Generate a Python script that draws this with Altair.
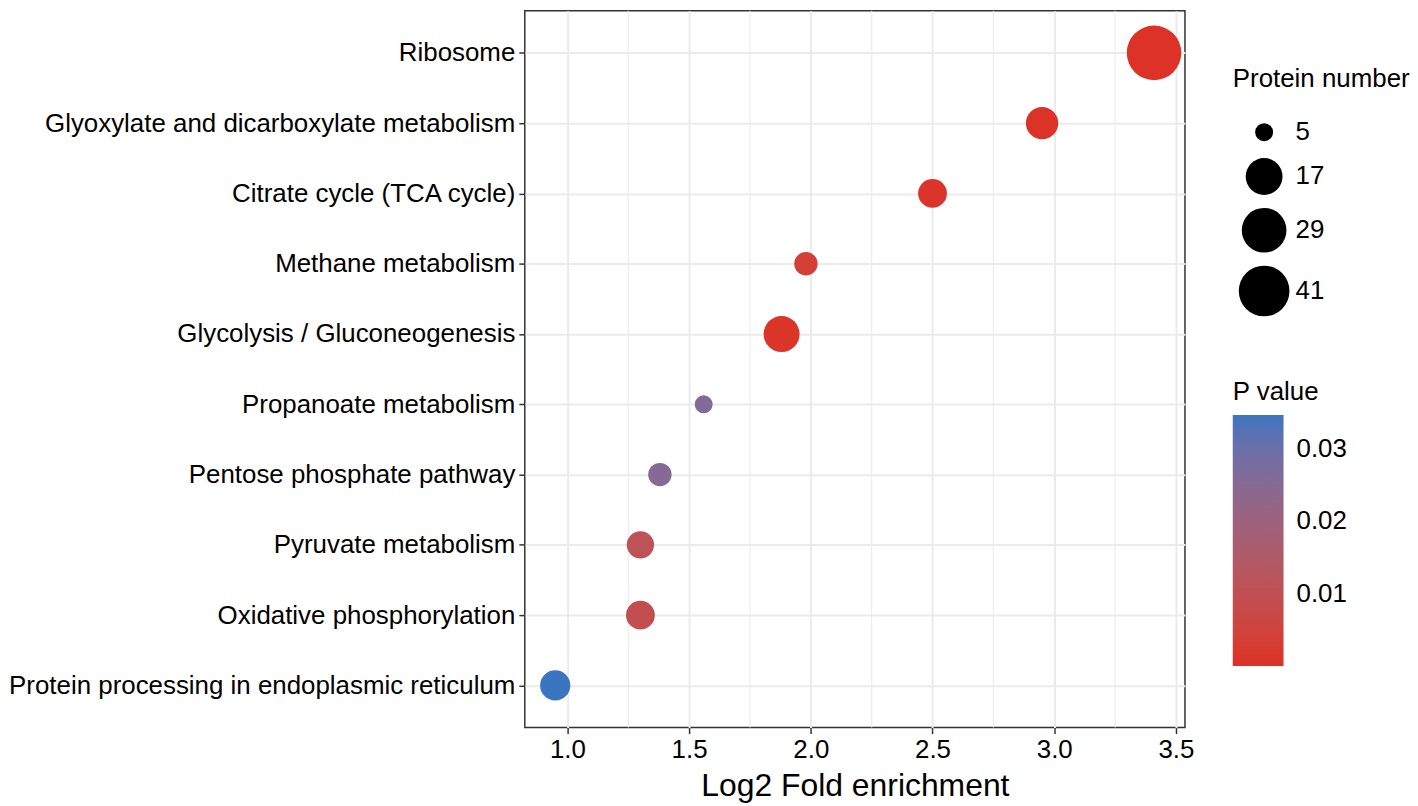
import altair as alt
import pandas as pd

# ---- data ----
pathways = [
    "Ribosome",
    "Glyoxylate and dicarboxylate metabolism",
    "Citrate cycle (TCA cycle)",
    "Methane metabolism",
    "Glycolysis / Gluconeogenesis",
    "Propanoate metabolism",
    "Pentose phosphate pathway",
    "Pyruvate metabolism",
    "Oxidative phosphorylation",
    "Protein processing in endoplasmic reticulum",
]
log2_fold_enrichment = [3.41, 2.95, 2.50, 1.98, 1.88, 1.56, 1.38, 1.30, 1.30, 0.95]
protein_number = [50, 12, 9, 6, 16, 5, 6, 8, 9, 10]
p_value = [0.0002, 0.0005, 0.0008, 0.004, 0.0006, 0.026, 0.025, 0.011, 0.0095, 0.0347]

x_major_ticks = [1.0, 1.5, 2.0, 2.5, 3.0, 3.5]
x_minor_grid = [1.25, 1.75, 2.25, 2.75, 3.25]
size_legend_values = [5, 17, 29, 41]
p_legend_values = [0.01, 0.02, 0.03]

df = pd.DataFrame({
    "pathway": pathways,
    "fe": log2_fold_enrichment,
    "n": protein_number,
    "p": p_value,
})
minor_df = pd.DataFrame({"fe": x_minor_grid})

FONT = "Liberation Sans"
W, H = 663, 720

xscale = alt.Scale(domain=[0.825, 3.537], nice=False, zero=False)
xaxis = alt.Axis(
    values=x_major_ticks,
    format=".1f",
    title="Log2 Fold enrichment",
    grid=True,
)

minor = alt.Chart(minor_df).mark_rule(color="#EBEBEB", strokeWidth=1.1).encode(
    x=alt.X("fe:Q", scale=xscale, axis=xaxis, title="Log2 Fold enrichment")
)

points = alt.Chart(df).mark_circle(opacity=1).encode(
    x=alt.X("fe:Q", scale=xscale, axis=xaxis, title="Log2 Fold enrichment"),
    y=alt.Y(
        "pathway:N",
        sort=pathways,
        scale=alt.Scale(type="point", padding=0.6),
        axis=alt.Axis(title=None, grid=True, labelLimit=0),
    ),
    size=alt.Size(
        "n:Q",
        scale=alt.Scale(
            domain=[5, 6, 8, 10, 12, 17, 29, 41, 50],
            range=[324, 552, 756, 918, 1056, 1369, 2016, 2591, 3003],
        ),
        legend=alt.Legend(
            title="Protein number",
            values=size_legend_values,
            orient="none",
            legendX=711,
            legendY=56,
            symbolFillColor="black",
            symbolStrokeWidth=0,
            symbolOpacity=1,
            symbolOffset=6,
            labelOffset=6,
            titlePadding=27,
            rowPadding=13,
        ),
    ),
    color=alt.Color(
        "p:Q",
        scale=alt.Scale(
            domain=[0, 0.0347],
            range=["#DD3126", "#3B75BF"],
            interpolate="lab",
        ),
        legend=alt.Legend(
            title="P value",
            values=p_legend_values,
            orient="none",
            legendX=711,
            legendY=370,
            gradientLength=252,
            gradientThickness=51,
            gradientStrokeWidth=0,
            labelOffset=13,
            titlePadding=10,
        ),
    ),
)

chart = (
    alt.layer(minor, points)
    .properties(width=W, height=H, padding={"left": 0, "top": 0, "right": 0, "bottom": 0})
    .configure_view(stroke="#333333", strokeWidth=1.5)
    .configure_axis(
        domain=False,
        labelFont=FONT,
        labelFontSize=26,
        labelColor="#000000",
        titleFont=FONT,
        titleFontSize=32,
        titleFontWeight="normal",
        titleColor="#000000",
        tickColor="#333333",
        tickWidth=1.5,
        tickSize=6,
        gridColor="#EBEBEB",
        gridWidth=2,
    )
    .configure_axisY(labelPadding=4)
    .configure_axisX(labelPadding=3, titlePadding=8)
    .configure_legend(
        titleFont=FONT,
        titleFontSize=26,
        titleFontWeight="normal",
        titleColor="#000000",
        labelFont=FONT,
        labelFontSize=26,
        labelColor="#000000",
        padding=0,
    )
)

chart.save("out.html", embed_options={"renderer": "svg", "actions": False})
